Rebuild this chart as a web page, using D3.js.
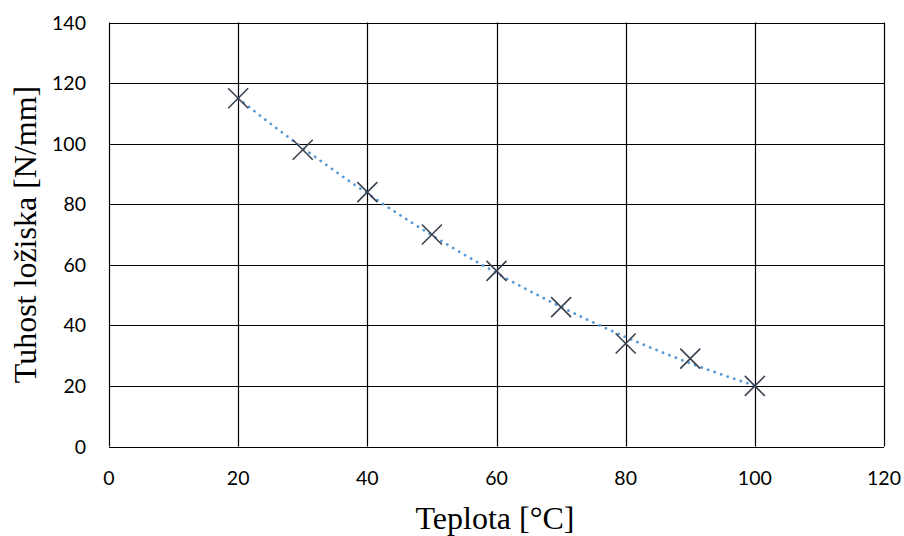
<!DOCTYPE html>
<html><head><meta charset="utf-8">
<script src="https://cdn.jsdelivr.net/npm/d3@7"></script>
<style>body{margin:0;background:#fff}svg{display:block}</style>
</head><body>
<svg id="c" width="904" height="536"></svg>
<script>
const temps = [20, 30, 40, 50, 60, 70, 80, 90, 100];
const stiffness = [115, 98, 84, 70, 58, 46, 34, 29, 20];
const xTicks = [0, 20, 40, 60, 80, 100, 120];
const yTicks = [0, 20, 40, 60, 80, 100, 120, 140];
const xTitle = "Teplota [°C]";
const yTitle = "Tuhost ložiska [N/mm]";

const svg = d3.select("#c");
const L = 109, R = 884, T = 22.5, B = 446.5;
const x = d3.scaleLinear().domain([0, 120]).range([L, R]);
const y = d3.scaleLinear().domain([0, 140]).range([B, T]);

// grid
const g = svg.append("g");
g.selectAll(".vx").data(xTicks).enter().append("line")
  .attr("x1", d => Math.round(x(d)) + 0.5).attr("x2", d => Math.round(x(d)) + 0.5)
  .attr("y1", T).attr("y2", B).attr("stroke", "#000").attr("stroke-width", 1.2);
g.selectAll(".hy").data(yTicks).enter().append("line")
  .attr("y1", d => Math.round(y(d)) + 0.5).attr("y2", d => Math.round(y(d)) + 0.5)
  .attr("x1", L).attr("x2", R).attr("stroke", "#000").attr("stroke-width", 1.2);

// tick labels
const tf = "Lato, 'Open Sans', sans-serif";
svg.selectAll(".xl").data(xTicks).enter().append("text")
  .attr("x", d => x(d)).attr("y", 485).attr("text-anchor", "middle")
  .attr("font-family", tf).attr("font-size", 19.5).attr("fill", "#000").text(d => d);
svg.selectAll(".yl").data(yTicks).enter().append("text")
  .attr("x", 86).attr("y", d => y(d) + 7).attr("text-anchor", "end")
  .attr("font-family", tf).attr("font-size", 19.5).attr("fill", "#000").text(d => d);

// quadratic trendline (least squares fit of the data)
function polyfit2(xs, ys) {
  let n = xs.length, s = [0,0,0,0,0], t = [0,0,0];
  for (let i = 0; i < n; i++) {
    let p = 1;
    for (let k = 0; k < 5; k++) { s[k] += p; if (k < 3) t[k] += p * ys[i]; p *= xs[i]; }
  }
  const A = [[s[0], s[1], s[2], t[0]], [s[1], s[2], s[3], t[1]], [s[2], s[3], s[4], t[2]]];
  for (let i = 0; i < 3; i++) {
    for (let j = i + 1; j < 3; j++) {
      const f = A[j][i] / A[i][i];
      for (let k = i; k < 4; k++) A[j][k] -= f * A[i][k];
    }
  }
  const c = [0,0,0];
  for (let i = 2; i >= 0; i--) {
    let v = A[i][3];
    for (let k = i + 1; k < 3; k++) v -= A[i][k] * c[k];
    c[i] = v / A[i][i];
  }
  return c;
}
const c = polyfit2(temps, stiffness);
const xs = d3.range(temps[0], temps[temps.length - 1] + 0.01, 0.5);
const trend = xs.map(v => [v, c[0] + c[1] * v + c[2] * v * v]);
svg.append("path").datum(trend)
  .attr("d", d3.line().x(d => x(d[0])).y(d => y(d[1])))
  .attr("fill", "none").attr("stroke", "#5B9BD5").attr("stroke-width", 2.8)
  .attr("stroke-linecap", "round").attr("stroke-dasharray", "0.1 6.8");

// markers
const m = 10;
const mk = svg.selectAll(".mk").data(temps.map((t, i) => [t, stiffness[i]])).enter().append("g")
  .attr("transform", d => `translate(${x(d[0])},${y(d[1])})`);
mk.append("path").attr("d", `M${-m},${-m}L${m},${m}M${-m},${m}L${m},${-m}`)
  .attr("stroke", "#3A4150").attr("stroke-width", 1.6).attr("fill", "none");

// titles
svg.append("text").attr("x", 495).attr("y", 529).attr("text-anchor", "middle")
  .attr("font-family", "'Liberation Serif', 'Times New Roman', serif").attr("font-size", 32)
  .attr("fill", "#000").text(xTitle);
svg.append("text").attr("transform", `translate(36,${(T + B) / 2}) rotate(-90)`)
  .attr("text-anchor", "middle")
  .attr("font-family", "'Liberation Serif', 'Times New Roman', serif").attr("font-size", 32)
  .attr("fill", "#000").text(yTitle);
</script>
</body></html>
